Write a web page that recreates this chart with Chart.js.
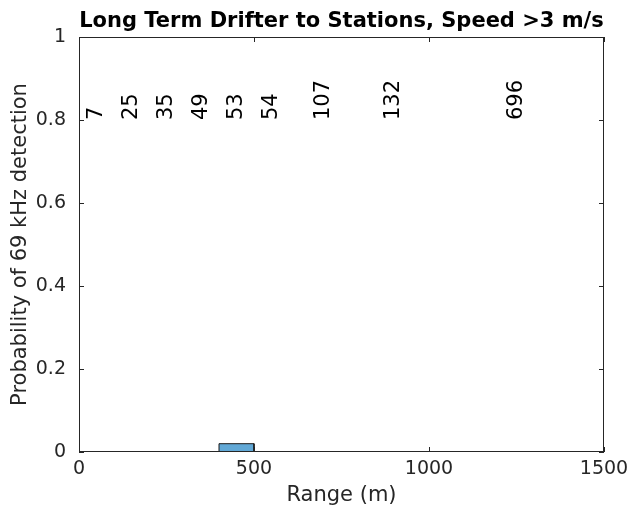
<!DOCTYPE html>
<html>
<head>
<meta charset="utf-8">
<script src="https://cdn.jsdelivr.net/npm/chart.js@4.4.1/dist/chart.umd.min.js"></script>
<style>
  body { margin: 0; background: #fff; }
  #wrap { width: 631px; height: 508px; }
</style>
</head>
<body>
<div id="wrap"><canvas id="histChart" width="631" height="508"></canvas></div>
<script>
// bin edges (m), probability per bin, and number of pings per bin
const binEdges = [0, 100, 200, 300, 400, 500, 600, 800, 1000, 1500]
const detectProb = [0, 0, 0, 0, 0.02, 0, 0, 0, 0]
const binCounts = [7, 25, 35, 49, 53, 54, 107, 132, 696]
const xTicks = [0, 500, 1000, 1500]
const yTicks = [0, 0.2, 0.4, 0.6, 0.8, 1]
const countLabelY = 0.8
const chartTitle = "Long Term Drifter to Stations, Speed >3 m/s"

const axisColor = "#262626"
const fontFamily = "'DejaVu Sans', sans-serif"

// outline of the histogram as a closed step polygon
const histPoints = []
binEdges.slice(0, -1).forEach((edge, i) => {
  const next = binEdges[i + 1]
  histPoints.push({ x: edge, y: 0 })
  histPoints.push({ x: edge, y: detectProb[i] })
  histPoints.push({ x: next, y: detectProb[i] })
  histPoints.push({ x: next, y: 0 })
})

// box around the plot with small inward ticks on all four sides, plus the title
const boxPlugin = {
  id: "boxTicks",
  afterDraw(chart) {
    const { ctx, chartArea: a, scales } = chart
    const len = 5
    ctx.save()
    ctx.strokeStyle = axisColor
    ctx.lineWidth = 1
    ctx.strokeRect(a.left + 0.5, a.top + 0.5, a.right - a.left - 1, a.bottom - a.top - 1)
    ctx.beginPath()
    xTicks.forEach((v) => {
      const px = Math.round(scales.x.getPixelForValue(v)) + 0.5
      ctx.moveTo(px, a.bottom); ctx.lineTo(px, a.bottom - len)
      ctx.moveTo(px, a.top); ctx.lineTo(px, a.top + len)
    })
    yTicks.forEach((v) => {
      const py = Math.round(scales.y.getPixelForValue(v)) + 0.5
      ctx.moveTo(a.left, py); ctx.lineTo(a.left + len, py)
      ctx.moveTo(a.right, py); ctx.lineTo(a.right - len, py)
    })
    ctx.stroke()

    // title centred over the axes
    ctx.fillStyle = "#000"
    ctx.font = `bold 21px ${fontFamily}`
    ctx.textAlign = "center"
    ctx.textBaseline = "alphabetic"
    ctx.fillText(chartTitle, (a.left + a.right) / 2, a.top - 10)
    ctx.restore()
  },
}

// vertical count labels at each bin centre
const countPlugin = {
  id: "binCounts",
  afterDatasetsDraw(chart) {
    const { ctx, scales } = chart
    ctx.save()
    ctx.fillStyle = "#000"
    ctx.font = `21px ${fontFamily}`
    ctx.textAlign = "left"
    ctx.textBaseline = "middle"
    binCounts.forEach((n, i) => {
      const mid = (binEdges[i] + binEdges[i + 1]) / 2
      ctx.save()
      ctx.translate(scales.x.getPixelForValue(mid), scales.y.getPixelForValue(countLabelY))
      ctx.rotate(-Math.PI / 2)
      ctx.fillText(String(n), 0, 0)
      ctx.restore()
    })
    ctx.restore()
  },
}

new Chart(document.getElementById("histChart"), {
  type: "scatter",
  data: {
    datasets: [
      {
        data: histPoints,
        showLine: true,
        fill: "origin",
        backgroundColor: "rgba(0,114,189,0.62)",
        borderColor: "#1a1a1a",
        borderWidth: 1,
        pointRadius: 0,
      },
    ],
  },
  options: {
    responsive: false,
    animation: false,
    layout: { padding: { left: 0, right: 27, top: 37, bottom: 0 } },
    plugins: {
      legend: { display: false },
      tooltip: { enabled: false },
      title: { display: false },
    },
    scales: {
      x: {
        type: "linear",
        min: 0,
        max: 1500,
        afterBuildTicks: (s) => { s.ticks = xTicks.map((v) => ({ value: v })) },
        afterFit: (s) => {
          s.height = 56
          s.paddingLeft = 0
          s.paddingRight = 0
        },
        grid: { display: false, drawTicks: false },
        border: { display: false },
        ticks: {
          color: axisColor,
          font: { family: fontFamily, size: 19 },
          padding: 6,
          maxRotation: 0,
          callback: (v) => String(v),
        },
        title: {
          display: true,
          text: "Range (m)",
          color: axisColor,
          font: { family: fontFamily, size: 21 },
          padding: { top: 0, bottom: 0 },
        },
      },
      y: {
        min: 0,
        max: 1,
        afterBuildTicks: (s) => { s.ticks = yTicks.map((v) => ({ value: v })) },
        afterFit: (s) => {
          s.width = 79
          s.paddingTop = 0
          s.paddingBottom = 0
        },
        grid: { display: false, drawTicks: false },
        border: { display: false },
        ticks: {
          color: axisColor,
          font: { family: fontFamily, size: 19 },
          padding: 13,
          callback: (v) => String(v),
        },
        title: {
          display: true,
          text: "Probability of 69 kHz detection",
          color: axisColor,
          font: { family: fontFamily, size: 21 },
          padding: { top: 8, bottom: 0 },
        },
      },
    },
  },
  plugins: [countPlugin, boxPlugin],
})
</script>
</body>
</html>
